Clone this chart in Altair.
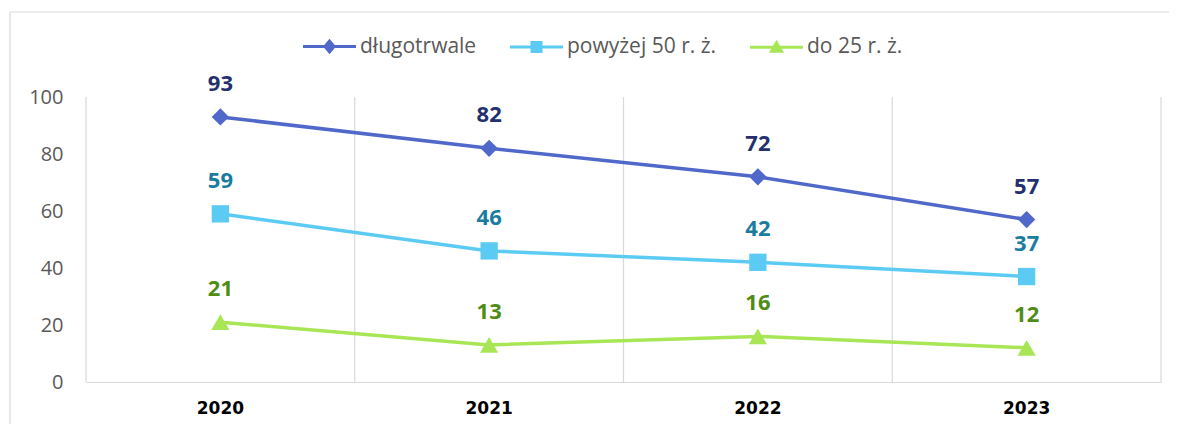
import altair as alt
import pandas as pd

years = ["2020", "2021", "2022", "2023"]
series = ["długotrwale", "powyżej 50 r. ż.", "do 25 r. ż."]
dlugotrwale = [93, 82, 72, 57]
powyzej_50 = [59, 46, 42, 37]
do_25 = [21, 13, 16, 12]

line_colors = ["#4F68C9", "#5CCBF4", "#A8E656"]
label_colors = ["#24306E", "#1A7C9E", "#4F8C14"]
shapes = ["diamond", "square", "triangle-up"]
marker_sizes = [300, 300, 330]

rows = []
for name, vals in zip(series, [dlugotrwale, powyzej_50, do_25]):
    for yr, v in zip(years, vals):
        rows.append({"rok": yr, "seria": name, "wartosc": v})
df = pd.DataFrame(rows)

W, H = 1075, 285
PAD = {"left": 78, "top": 89, "right": 8, "bottom": 42}

x_scale = alt.Scale(type="band", domain=years, paddingInner=0, paddingOuter=0)
y_scale = alt.Scale(domain=[0, 100])
color_scale = alt.Scale(domain=series, range=line_colors)

x_axis = alt.Axis(title=None, labelAngle=0, ticks=False, grid=False, domain=True,
                  domainColor="#D9D9D9", domainWidth=1.2, labelFont="DejaVu Sans",
                  labelFontWeight="bold", labelFontSize=17, labelColor="#000000",
                  labelPadding=18)
y_axis = alt.Axis(title=None, values=[0, 20, 40, 60, 80, 100], grid=False, ticks=False,
                  domain=False, labelFont="Open Sans", labelFontSize=20,
                  labelColor="#595959", labelPadding=23)

# legend symbols: a line segment with the series marker in its middle
line_path = "M-1,0L9.6,0"
legend_paths = [
    line_path + "M3.4,0L4.3,-1.1L5.2,0L4.3,1.1Z",
    line_path + "M3.4,-0.9L5.2,-0.9L5.2,0.9L3.4,0.9Z",
    line_path + "M3.3,0.8L5.3,0.8L4.3,-0.9Z",
]

legend = alt.Legend(
    title=None, orient="none", legendX=211.5, legendY=-61, direction="horizontal",
    symbolSize=100, symbolStrokeWidth=3, labelFont="Open Sans", labelFontSize=21,
    labelColor="#595959", labelOffset=41.5, columnPadding=27,
)

base = alt.Chart(df).encode(
    x=alt.X("rok:N", scale=x_scale, bandPosition=0.5, axis=x_axis),
    y=alt.Y("wartosc:Q", scale=y_scale, axis=y_axis),
)

grid_df = pd.DataFrame({"rok": years})
vgrid = alt.Chart(grid_df).mark_rule(color="#D9D9D9", strokeWidth=1.2).encode(
    x=alt.X("rok:N", scale=x_scale, bandPosition=0, axis=x_axis),
    y=alt.value(0), y2=alt.value(H),
)
one = pd.DataFrame({"a": [0]})
right_edge = alt.Chart(one).mark_rule(color="#D9D9D9", strokeWidth=1.2).encode(
    x=alt.value(W), y=alt.value(0), y2=alt.value(H)
)
frame_left = alt.Chart(one).mark_rule(color="#D9D9D9", strokeWidth=1.2).encode(
    x=alt.value(-76), y=alt.value(-85), y2=alt.value(H + 42)
)
frame_top = alt.Chart(one).mark_rule(color="#D9D9D9", strokeWidth=1.2).encode(
    x=alt.value(-76), x2=alt.value(W + 8), y=alt.value(-85)
)

lines = base.mark_line(strokeWidth=3.5).encode(
    color=alt.Color("seria:N", scale=color_scale, legend=legend)
)

# helper layer drawn outside the plot and clipped; its fill/stroke/shape scales feed the merged legend
legend_layer = base.mark_point(strokeWidth=3, opacity=1, clip=True).encode(
    x=alt.value(-200), y=alt.value(-200),
    fill=alt.Fill("seria:N", scale=alt.Scale(domain=series, range=line_colors), legend=legend),
    stroke=alt.Stroke("seria:N", scale=alt.Scale(domain=series, range=line_colors), legend=legend),
    shape=alt.Shape("seria:N", scale=alt.Scale(domain=series, range=legend_paths), legend=legend),
)

layers = [frame_left, frame_top, vgrid, right_edge, lines, legend_layer]
for i, name in enumerate(series):
    sub = base.transform_filter(alt.datum.seria == name)
    layers.append(sub.mark_point(filled=True, shape=shapes[i], size=marker_sizes[i],
                                 color=line_colors[i], opacity=1))
for i, name in enumerate(series):
    sub = base.transform_filter(alt.datum.seria == name)
    layers.append(sub.mark_text(font="Open Sans", fontWeight="bold", fontSize=22,
                                color=label_colors[i], baseline="alphabetic", dy=-26)
                  .encode(text="wartosc:Q"))

chart = alt.layer(*layers).properties(
    width=W, height=H,
    autosize=alt.AutoSizeParams(type="none"),
    padding=PAD,
    background="white",
).configure_view(stroke=None)

chart.save("out.html", embed_options={"renderer": "svg", "actions": False})
